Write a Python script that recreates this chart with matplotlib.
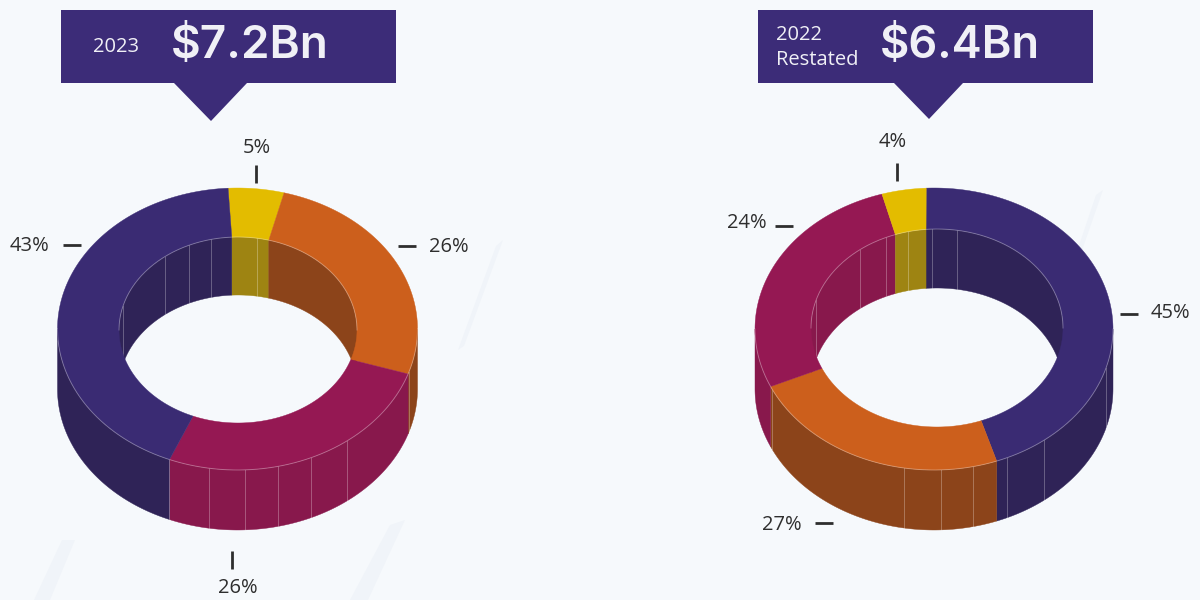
import numpy as np
import matplotlib
matplotlib.use("Agg")
import matplotlib.pyplot as plt
from matplotlib.patches import Polygon, Rectangle

# ---- data ----
shares_2023 = [5, 26, 26, 43]
labels_2023 = ["5%", "26%", "26%", "43%"]
colors_2023 = ["yellow", "orange", "magenta", "indigo"]
shares_2022 = [45, 24, 27, 4]
labels_2022 = ["45%", "27%", "24%", "4%"]
colors_2022 = ["indigo", "orange", "magenta", "yellow"]
title_2023 = "$7.2Bn"
title_2022 = "$6.4Bn"

# ---- style ----
TOP = {"yellow": "#e3bc00", "orange": "#cc5f1c", "magenta": "#951853", "indigo": "#3a2b73"}
WALL = {"yellow": "#9e8412", "orange": "#8c441a", "magenta": "#88184c", "indigo": "#2f2357"}
HEAD = "#3c2c78"
INK = "#2e2e2e"
H_OUT = 60
CY = 329

plt.rcParams["font.family"] = ["Open Sans", "DejaVu Sans"]
fig = plt.figure(figsize=(12, 6), dpi=100)
ax = fig.add_axes([0, 0, 1, 1])
ax.set_xlim(0, 1200)
ax.set_ylim(600, 0)
ax.axis("off")
fig.patch.set_facecolor("#f6f9fc")

# faint background streaks
for pts in [[(503, 240), (496, 246), (458, 350), (464, 346)],
            [(1103, 190), (1096, 195), (1064, 290), (1070, 285)],
            [(405, 520), (390, 525), (350, 600), (368, 600)],
            [(75, 540), (62, 540), (34, 600), (50, 600)]]:
    ax.add_patch(Polygon(pts, closed=True, fc="#f0f4f9", ec="none", zorder=0))


def ell(cx, cy, rx, ry, th, dy=0):
    t = np.radians(th)
    return cx + rx * np.sin(t), cy + dy - ry * np.cos(t)


def arc(a, b):
    return np.linspace(a, b, max(int(abs(b - a)) + 2, 3))


def donut(outer, inner, start, shares, keys, in_seams, out_seams, skew=0.0):
    cx, rx_o, ry_o = outer
    cxi, cyi, rx_i, ry_i, h_i = inner
    edges = start + np.cumsum([0] + list(shares)) * 360 / np.sum(shares)

    def inner_angle(th):
        # the hole sits slightly off-centre, so back-side edges lean a little
        return th - skew * np.maximum(np.cos(np.radians(th)), 0)

    # inner wall (back half)
    for i, k in enumerate(keys):
        for lo, hi in [(edges[i], edges[i + 1]), (edges[i] - 360, edges[i + 1] - 360)]:
            a, b = max(inner_angle(lo), -90), min(inner_angle(hi), 90)
            if b <= a:
                continue
            th = arc(a, b)
            x, y = ell(cxi, cyi, rx_i, ry_i, th)
            x2, y2 = ell(cxi, cyi, rx_i, ry_i, th, h_i)
            ax.add_patch(Polygon(np.r_[np.c_[x, y], np.c_[x2, y2][::-1]], fc=WALL[k], ec=WALL[k], lw=0.3, zorder=2))
    for sx in in_seams:
        y0 = cyi - ry_i * np.sqrt(max(1 - ((sx - cxi) / rx_i) ** 2, 0))
        ax.plot([sx, sx], [y0, y0 + h_i], color="white", alpha=0.28, lw=0.7, zorder=2.5)
    # outer wall (front half)
    for i, k in enumerate(keys):
        a, b = max(edges[i], 90), min(edges[i + 1], 270)
        if b <= a:
            continue
        th = arc(a, b)
        x, y = ell(cx, CY, rx_o, ry_o, th)
        x2, y2 = ell(cx, CY, rx_o, ry_o, th, H_OUT)
        ax.add_patch(Polygon(np.r_[np.c_[x, y], np.c_[x2, y2][::-1]], fc=WALL[k], ec=WALL[k], lw=0.3, zorder=2))
    for sx in out_seams:
        y0 = CY + ry_o * np.sqrt(max(1 - ((sx - cx) / rx_o) ** 2, 0))
        ax.plot([sx, sx], [y0, y0 + H_OUT], color="white", alpha=0.28, lw=0.7, zorder=2.5)
    # top face
    for i, k in enumerate(keys):
        th = arc(edges[i], edges[i + 1])
        x, y = ell(cx, CY, rx_o, ry_o, th)
        x2, y2 = ell(cxi, cyi, rx_i, ry_i, inner_angle(th))
        ax.add_patch(Polygon(np.r_[np.c_[x, y], np.c_[x2, y2][::-1]], fc=TOP[k], ec=TOP[k], lw=0.3, zorder=3))
    # pale rims
    ax.plot(*ell(cxi, cyi, rx_i, ry_i, arc(-90, 90)), color="white", alpha=0.3, lw=0.7, zorder=4)
    ax.plot(*ell(cx, CY, rx_o, ry_o, arc(90, 270)), color="white", alpha=0.3, lw=0.7, zorder=4)


donut((237.5, 180, 141), (238, 330, 119, 93, 58), -3, shares_2023, colors_2023,
      [123, 165, 189, 211, 257],
      [169, 209, 245, 278, 311, 347, 409])
donut((934, 179, 141), (937, 328, 126, 99, 59), -2.5, shares_2022, colors_2022,
      [816, 860, 886, 908, 932, 957],
      [772, 904, 941, 973, 1007, 1044, 1106], skew=2.5)

# percentage labels and leader ticks
label_pos_23 = [(257, 148), (449, 247), (238, 588), (30, 246)]
tick_pos_23 = [((256, 256), (165, 183)), ((398, 416), (246, 246)), ((232, 232), (551, 569)), ((63, 81), (245, 245))]
label_pos_22 = [(1170, 313), (782, 525), (747, 223), (893, 142)]
tick_pos_22 = [((1120, 1138), (314, 314)), ((815, 833), (523, 523)), ((775, 793), (226, 226)), ((897, 897), (163, 181))]
for labs, lp, tp in [(labels_2023, label_pos_23, tick_pos_23), (labels_2022, label_pos_22, tick_pos_22)]:
    for s, (x, y), (tx, ty) in zip(labs, lp, tp):
        ax.text(x, y, s, ha="center", va="center", fontsize=14.5, color=INK, zorder=6)
        ax.plot(tx, ty, color=INK, lw=2, solid_capstyle="butt", zorder=6)

# header callouts
for (x0, x1), tri in [((61, 396), [(174, 83), (247, 83), (211, 121)]),
                      ((758, 1093), [(894, 83), (963, 83), (929, 119)])]:
    ax.add_patch(Rectangle((x0, 10), x1 - x0, 73, fc=HEAD, ec="none", zorder=5))
    ax.add_patch(Polygon(tri, closed=True, fc=HEAD, ec="none", zorder=5))
HT = "#f0f0f6"
ax.text(93, 46.5, "2023", ha="left", va="center", fontsize=14.5, color=HT, zorder=6)
ax.text(170.5, 45.5, title_2023, ha="left", va="center", fontsize=33, family="Inter", fontweight="semibold", color=HT, zorder=6)
ax.text(776, 35, "2022", ha="left", va="center", fontsize=14.5, color=HT, zorder=6)
ax.text(776, 60, "Restated", ha="left", va="center", fontsize=14.5, color=HT, zorder=6)
ax.text(880, 45.5, title_2022, ha="left", va="center", fontsize=32.5, family="Inter", fontweight="semibold", color=HT, zorder=6)

fig.savefig("out.png", dpi=100, facecolor=fig.get_facecolor())
